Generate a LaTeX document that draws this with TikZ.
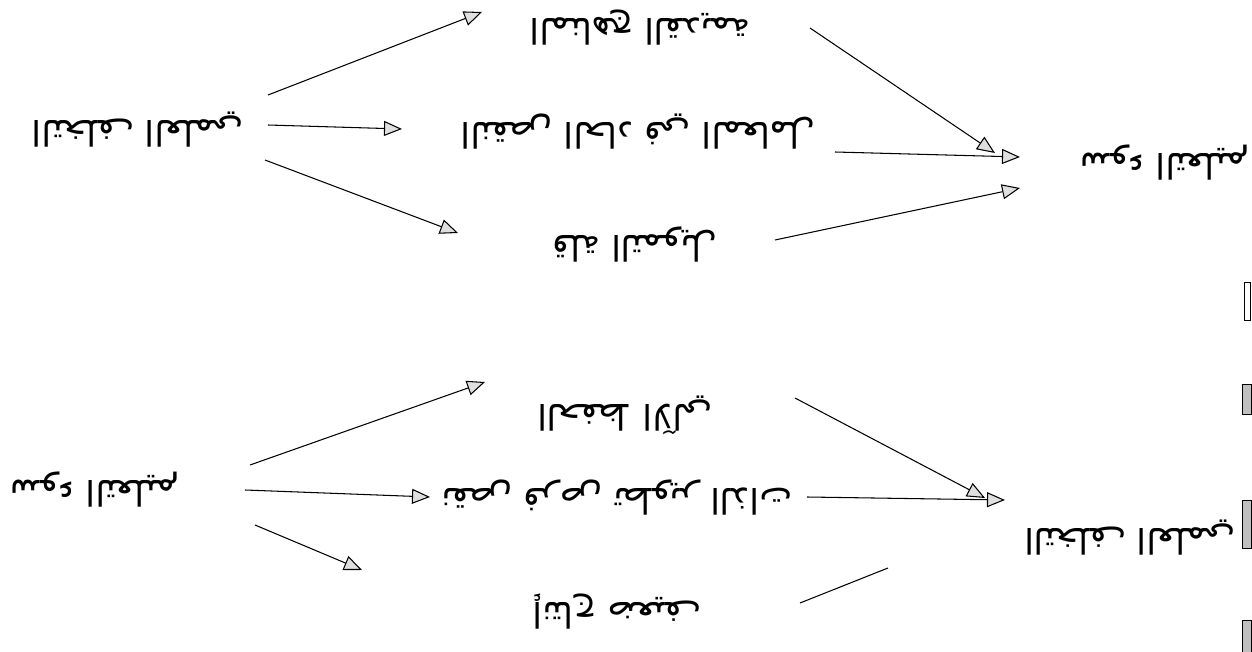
\documentclass[tikz,border=0pt]{standalone}
\usepackage{fontspec}
\usepackage{tikz}
\usetikzlibrary{arrows.meta}
\newfontfamily\arabicfont[Script=Arabic]{DejaVu Sans}
\TeXXeTstate=1

\begin{document}
\begin{tikzpicture}[x=0.02cm,y=-0.02cm,
	word/.style={font=\arabicfont\fontsize{20}{24}\selectfont, rotate=180, inner sep=0pt},
	link/.style={line width=0.6pt, -{Triangle[length=0.36cm,width=0.3cm,fill=gray!25]}},
	bare/.style={line width=0.6pt}]
	\useasboundingbox (0,0) rectangle (1252,652);

	\node[word] (tl) at (138,130) {\beginR التخلف العلمي\endR};
	\node[word] (t1) at (640,28) {\beginR المناهج القديمة\endR};
	\node[word] (t2) at (638,132) {\beginR النقص الحاد في المعامل\endR};
	\node[word] (t3) at (635,245) {\beginR قلة التمويل\endR};
	\node[word] (tr) at (1165,163) {\beginR سوء التعليم\endR};

	\draw[link] ([shift={(130,-35)}]tl.center) -- ([shift={(-158,-16)}]t1.center);
	\draw[link] ([shift={(130,-5)}]tl.center) -- ([shift={(-236,-3)}]t2.center);
	\draw[link] ([shift={(127,30)}]tl.center) -- ([shift={(-177,-12)}]t3.center);
	\draw[link] ([shift={(170,0)}]t1.center) -- ([shift={(-170,-10)}]tr.center);
	\draw[link] ([shift={(197,20)}]t2.center) -- ([shift={(-145,-6)}]tr.center);
	\draw[link] ([shift={(140,-5)}]t3.center) -- ([shift={(-145,25)}]tr.center);

	\node[word] (bl) at (95,490) {\beginR سوء التعليم\endR};
	\node[word] (b1) at (625,415) {\beginR الحفظ الآلي\endR};
	\node[word] (b2) at (617,498) {\beginR نقص فرص تطوير الذات\endR};
	\node[word] (b3) at (617,612) {\beginR إنتاج ضعيف\endR};
	\node[word] (br) at (1130,538) {\beginR التخلف العلمي\endR};
	\coordinate (cut) at (888,568);

	\draw[link] ([shift={(155,-25)}]bl.center) -- ([shift={(-140,-33)}]b1.center);
	\draw[link] ([shift={(150,0)}]bl.center) -- ([shift={(-187,-1)}]b2.center);
	\draw[link] ([shift={(160,35)}]bl.center) -- ([shift={(-255,-42)}]b3.center);
	\draw[link] ([shift={(170,-17)}]b1.center) -- ([shift={(-145,-40)}]br.center);
	\draw[link] ([shift={(190,-1)}]b2.center) -- ([shift={(-125,-38)}]br.center);
	\draw[bare] ([shift={(183,-9)}]b3.center) -- (cut);

	\draw[line width=0.5pt] (1244,282) rectangle (1250,320);
	\filldraw[fill=gray!50, line width=0.5pt] (1242,384) rectangle (1251,414);
	\filldraw[fill=gray!50, line width=0.5pt] (1242,500) rectangle (1251,548);
	\filldraw[fill=gray!50, line width=0.5pt] (1242,620) rectangle (1251,652);
\end{tikzpicture}
\end{document}
